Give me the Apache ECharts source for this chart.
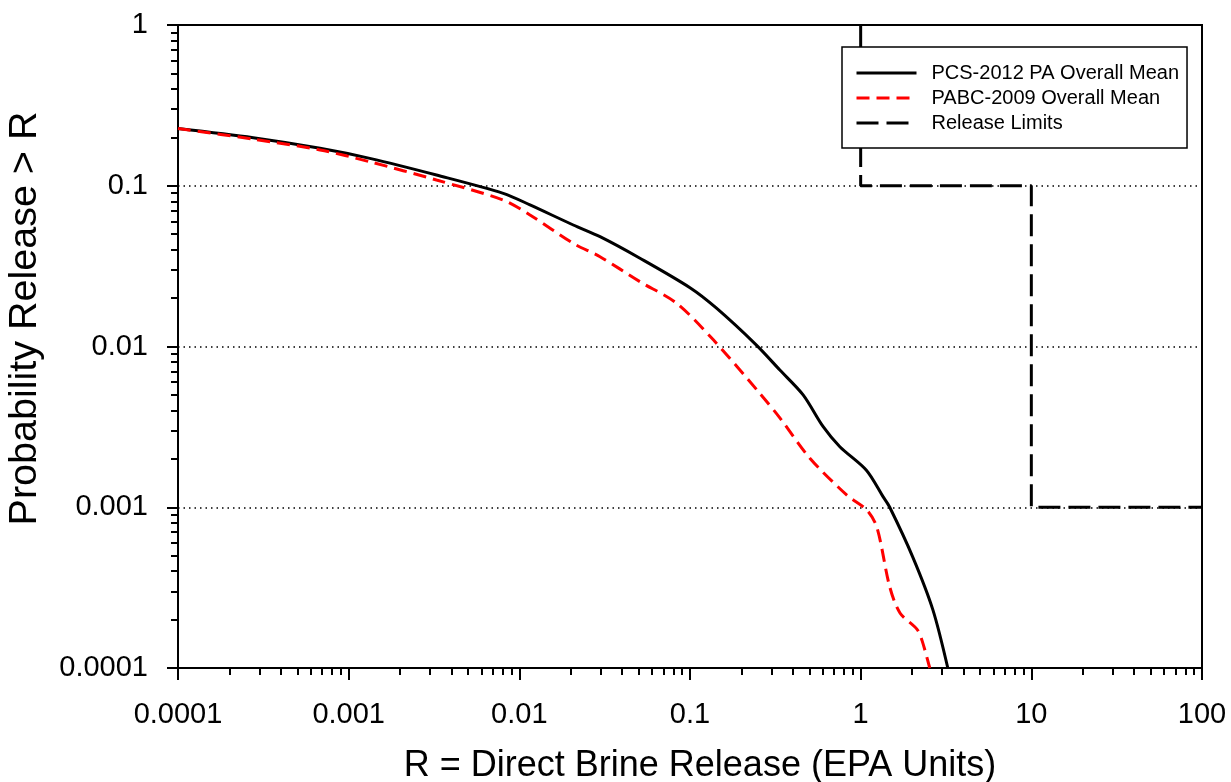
<!DOCTYPE html>
<html>
<head>
<meta charset="utf-8">
<script src="https://cdn.jsdelivr.net/npm/echarts@6/dist/echarts.min.js"></script>
<style>
 html, body { margin: 0; padding: 0; background: #fff; }
 #chart { width: 1231px; height: 782px; }
</style>
</head>
<body>
<div id="chart"></div>
<script>
// decade ticks and their labels
const xMajor = [0.0001, 0.001, 0.01, 0.1, 1, 10, 100]
const xLabels = ['0.0001', '0.001', '0.01', '0.1', '1', '10', '100']
const yMajor = [0.0001, 0.001, 0.01, 0.1, 1]
const yLabels = ['0.0001', '0.001', '0.01', '0.1', '1']

// PCS-2012 PA overall mean (R, P)
const pcs2012 = [
 [1e-4, 0.227], [2.76e-4, 0.199], [6.8e-4, 0.171], [1.33e-3, 0.148], [3.27e-3, 0.1166],
 [8.05e-3, 0.0897], [0.01155, 0.076], [0.0207, 0.057], [0.0297, 0.0482],
 [0.0509, 0.0354], [0.1, 0.0232], [0.143, 0.0173], [0.245, 0.0102], [0.336, 0.00714],
 [0.46, 0.0050], [0.603, 0.00317], [0.755, 0.00238], [1.08, 0.0017], [1.355, 0.00116],
 [1.48, 0.001], [2.02, 0.00049], [2.65, 0.00023], [3.24, 0.0001]
]

// PABC-2009 overall mean (R, P)
const pabc2009 = [
 [1e-4, 0.227], [2.76e-4, 0.195], [6.8e-4, 0.167], [1.33e-3, 0.141], [3.27e-3, 0.1086],
 [8.05e-3, 0.0815], [0.01155, 0.0658], [0.0207, 0.0438], [0.0297, 0.0362],
 [0.0509, 0.0253], [0.0834, 0.0186], [0.137, 0.011], [0.257, 0.0051], [0.336, 0.0036],
 [0.504, 0.00202], [0.83, 0.00119], [1.087, 0.00096], [1.245, 0.00075], [1.48, 0.00032],
 [1.70, 0.00022], [2.14, 0.000174], [2.29, 0.000148], [2.54, 0.0001]
]

// EPA release limits (step)
const releaseLimits = [[1, 1], [1, 0.1], [10, 0.1], [10, 0.001], [100, 0.001]]

const minorOf = (lo, hi) => {
 const out = []
 for (let d = lo; d < hi; d *= 10) {
  for (let k = 2; k <= 9; k++) out.push(+(d * k).toPrecision(3))
 }
 return out
}
const xMinor = minorOf(0.0001, 100)
const yMinor = minorOf(0.0001, 1)

const FONT = 'Liberation Sans, Arial, Helvetica, sans-serif'

const setOption = () => {
 return {
  backgroundColor: '#fff',
  animation: false,
  grid: {
   left: 178,
   right: 29,
   top: 25,
   bottom: 114,
   outerBoundsMode: 'none',
   show: true,
   borderColor: '#000',
   borderWidth: 2
  },
  legend: {
   data: ['PCS-2012 PA Overall Mean', 'PABC-2009 Overall Mean', 'Release Limits'],
   orient: 'vertical',
   left: 842,
   top: 47,
   itemWidth: 60,
   itemHeight: 20,
   itemGap: 5,
   padding: [16, 8, 15, 13],
   backgroundColor: '#fff',
   borderColor: '#000',
   borderWidth: 1.5,
   z: 10,
   itemStyle: { opacity: 0 },
   lineStyle: { width: 3 },
   textStyle: {
    fontFamily: FONT,
    fontSize: 20,
    color: '#000',
    padding: [0, 0, 0, 10]
   }
  },
  xAxis: [
   {
    type: 'log',
    logBase: 10,
    min: 0.0001,
    max: 100,
    position: 'bottom',
    name: 'R = Direct Brine Release (EPA Units)',
    nameLocation: 'middle',
    nameGap: 80,
    nameTextStyle: { fontFamily: FONT, fontSize: 36, color: '#000', padding: [0, 0, 0, 20] },
    axisLine: { lineStyle: { color: '#000', width: 2 } },
    axisTick: { customValues: xMajor, length: 12, lineStyle: { color: '#000', width: 2 } },
    axisLabel: {
     customValues: xMajor,
     margin: 32,
     fontFamily: FONT,
     fontSize: 29,
     color: '#000',
     formatter: (v) => xLabels[xMajor.findIndex(m => Math.abs(m - v) / m < 1e-6)] || ''
    },
    splitLine: { show: false }
   },
   {
    type: 'log',
    logBase: 10,
    min: 0.0001,
    max: 100,
    position: 'bottom',
    axisLine: { show: false },
    axisTick: { customValues: xMinor, length: 7, lineStyle: { color: '#000', width: 2 } },
    axisLabel: { show: false },
    splitLine: { show: false }
   }
  ],
  yAxis: [
   {
    type: 'log',
    logBase: 10,
    min: 0.0001,
    max: 1,
    position: 'left',
    name: 'Probability Release > R',
    nameLocation: 'middle',
    nameGap: 133,
    nameTextStyle: { fontFamily: FONT, fontSize: 39.5, color: '#000', padding: [0, 0, 0, 56] },
    axisLine: { lineStyle: { color: '#000', width: 2 } },
    axisTick: { customValues: yMajor, length: 11, lineStyle: { color: '#000', width: 2 } },
    axisLabel: {
     customValues: yMajor,
     margin: 30,
     fontFamily: FONT,
     fontSize: 29,
     color: '#000',
     formatter: (v) => yLabels[yMajor.findIndex(m => Math.abs(m - v) / m < 1e-6)] || ''
    },
    splitLine: { show: true, lineStyle: { color: '#000', width: 1.5, type: [1.5, 4] } }
   },
   {
    type: 'log',
    logBase: 10,
    min: 0.0001,
    max: 1,
    position: 'left',
    axisLine: { show: false },
    axisTick: { customValues: yMinor, length: 7, lineStyle: { color: '#000', width: 2 } },
    axisLabel: { show: false },
    splitLine: { show: false }
   }
  ],
  series: [
   {
    name: 'PCS-2012 PA Overall Mean',
    type: 'line',
    symbol: 'none',
    smooth: 0.3,
    z: 4,
    lineStyle: { color: '#000', width: 3 },
    itemStyle: { color: '#000' },
    data: pcs2012
   },
   {
    name: 'PABC-2009 Overall Mean',
    type: 'line',
    symbol: 'none',
    smooth: 0.3,
    z: 5,
    lineStyle: { color: '#ff0000', width: 3, type: [13, 7] },
    itemStyle: { color: '#ff0000' },
    data: pabc2009
   },
   {
    name: 'Release Limits',
    type: 'line',
    symbol: 'none',
    z: 3,
    lineStyle: { color: '#000', width: 3, type: [22, 8] },
    itemStyle: { color: '#000' },
    data: releaseLimits
   }
  ]
 }
}

const chartDom = document.getElementById('chart')
const myChart = echarts.init(chartDom)
myChart.setOption(setOption(), true)
</script>
</body>
</html>
